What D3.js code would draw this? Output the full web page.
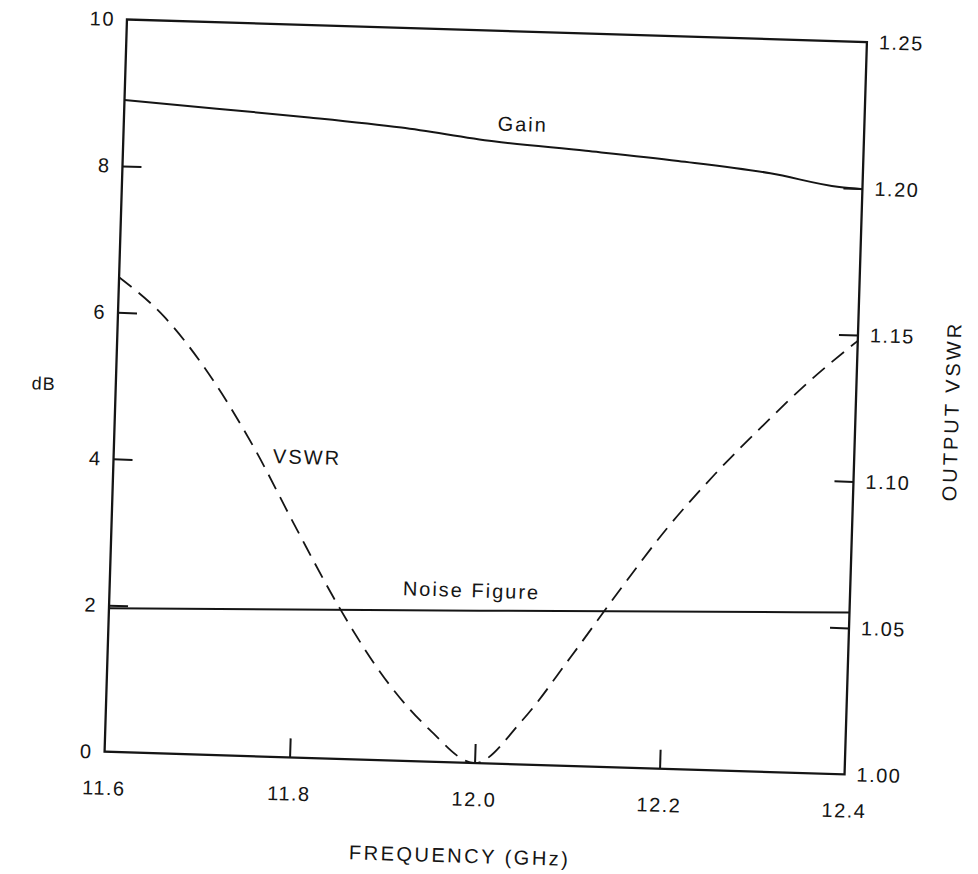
<!DOCTYPE html>
<html lang="en">
  <head>
    <meta charset="utf-8">
    <title>Gain, noise figure and output VSWR</title>
    <script src="https://d3js.org/d3.v7.min.js"></script>
    <style>
      body { margin: 0; background: #fff; }
      text { font-family: "Liberation Sans", Arial, sans-serif; fill: #151515; }
    </style>
  </head>
  <body>
    <div id="chart"></div>

    <script type="text/javascript">
      // axis ticks
      var freqTicks = [11.6, 11.8, 12.0, 12.2, 12.4];
      var dbTicks = [0, 2, 4, 6, 8, 10];
      var vswrTicks = [1.00, 1.05, 1.10, 1.15, 1.20, 1.25];

      // gain (dB), left axis
      var gainFreq = [11.6, 11.7, 11.8, 11.9, 12.0, 12.1, 12.2, 12.3, 12.375, 12.4];
      var gainDb = [8.90, 8.82, 8.74, 8.64, 8.49, 8.40, 8.30, 8.17, 8.01, 7.99];

      // noise figure (dB), left axis
      var noiseFreq = [11.6, 12.0, 12.4];
      var noiseDb = [1.96, 2.08, 2.21];

      // output VSWR, right axis
      var vswrFreq = [11.6, 11.65, 11.7, 11.75, 11.8, 11.85, 11.9, 11.95, 12.0,
                      12.05, 12.1, 12.15, 12.2, 12.25, 12.3, 12.35, 12.4];
      var vswrValue = [1.162, 1.149, 1.130, 1.106, 1.078, 1.051, 1.028, 1.011, 1.000,
                       1.015, 1.037, 1.060, 1.082, 1.101, 1.118, 1.134, 1.148];

      var width = 740.3,
          height = 732.6,
          margin = { top: 30.6, left: 115.6 },
          tick = 19,
          ink = "#151515";

      var svg = d3.select("#chart").append("svg")
                  .attr("width", 978)
                  .attr("height", 874);

      // the scanned page sits slightly tilted
      var g = svg.append("g")
                 .attr("transform", `rotate(1.75,485.75,396.9) translate(${margin.left},${margin.top})`);

      var x = d3.scaleLinear().domain([11.6, 12.4]).range([0, width]);
      var yDb = d3.scaleLinear().domain([0, 10]).range([height, 0]);
      var yVswr = d3.scaleLinear().domain([1.0, 1.25]).range([height, 0]);

      function styleAxis(sel, ends) {
        sel.select(".domain").remove();
        sel.selectAll(".tick line")
           .attr("stroke", ink)
           .attr("stroke-width", 2)
           .filter(d => ends.indexOf(d) >= 0).remove();
        sel.selectAll(".tick text")
           .attr("font-size", 20)
           .attr("letter-spacing", 1.5)
           .attr("fill", ink);
      }

      g.append("g")
       .attr("transform", `translate(0,${height})`)
       .call(d3.axisBottom(x).tickValues(freqTicks).tickSize(-tick).tickPadding(29)
               .tickFormat(d3.format(".1f")))
       .call(styleAxis, [11.6, 12.4]);

      g.append("g")
       .call(d3.axisLeft(yDb).tickValues(dbTicks).tickSize(-tick).tickPadding(12)
               .tickFormat(d3.format("d")))
       .call(styleAxis, [0, 10]);

      g.append("g")
       .attr("transform", `translate(${width},0)`)
       .call(d3.axisRight(yVswr).tickValues(vswrTicks).tickSize(-tick).tickPadding(12)
               .tickFormat(d3.format(".2f")))
       .call(styleAxis, [1.0, 1.25]);

      g.selectAll(".tick text").attr("font-family", null);

      // frame
      g.append("rect")
       .attr("width", width)
       .attr("height", height)
       .attr("fill", "none")
       .attr("stroke", ink)
       .attr("stroke-width", 2.3);

      var dbLine = d3.line()
                     .x(d => x(d[0]))
                     .y(d => yDb(d[1]))
                     .curve(d3.curveMonotoneX);

      var vswrLine = d3.line()
                       .x(d => x(d[0]))
                       .y(d => yVswr(d[1]))
                       .curve(d3.curveMonotoneX);

      g.append("path")
       .datum(d3.zip(gainFreq, gainDb))
       .attr("d", dbLine)
       .attr("fill", "none")
       .attr("stroke", ink)
       .attr("stroke-width", 2);

      g.append("path")
       .datum(d3.zip(noiseFreq, noiseDb))
       .attr("d", dbLine)
       .attr("fill", "none")
       .attr("stroke", ink)
       .attr("stroke-width", 2);

      g.append("path")
       .datum(d3.zip(vswrFreq, vswrValue))
       .attr("d", vswrLine)
       .attr("fill", "none")
       .attr("stroke", ink)
       .attr("stroke-width", 1.8)
       .attr("stroke-dasharray", "16,9");

      // curve labels
      var labels = [
        { text: "Gain", f: 12.031, v: 8.64 },
        { text: "VSWR", f: 11.809, v: 4.01 },
        { text: "Noise Figure", f: 11.991, v: 2.26 }
      ];
      g.selectAll(".curve-label")
       .data(labels)
       .enter().append("text")
       .attr("class", "curve-label")
       .attr("x", d => x(d.f))
       .attr("y", d => yDb(d.v))
       .attr("text-anchor", "middle")
       .attr("font-size", 20)
       .attr("letter-spacing", 2)
       .text(d => d.text);

      // axis titles
      g.append("text")
       .attr("x", -72)
       .attr("y", height / 2)
       .attr("dy", "0.35em")
       .attr("text-anchor", "middle")
       .attr("font-size", 18)
       .attr("letter-spacing", 1)
       .text("dB");

      g.append("text")
       .attr("transform", `translate(${width + 96},${height / 2}) rotate(-90)`)
       .attr("dy", "0.35em")
       .attr("text-anchor", "middle")
       .attr("font-size", 20)
       .attr("letter-spacing", 3)
       .text("OUTPUT VSWR");

      g.append("text")
       .attr("x", width / 2 - 12)
       .attr("y", height + 100)
       .attr("text-anchor", "middle")
       .attr("font-size", 20)
       .attr("letter-spacing", 2.5)
       .text("FREQUENCY (GHz)");
    </script>
  </body>
</html>
